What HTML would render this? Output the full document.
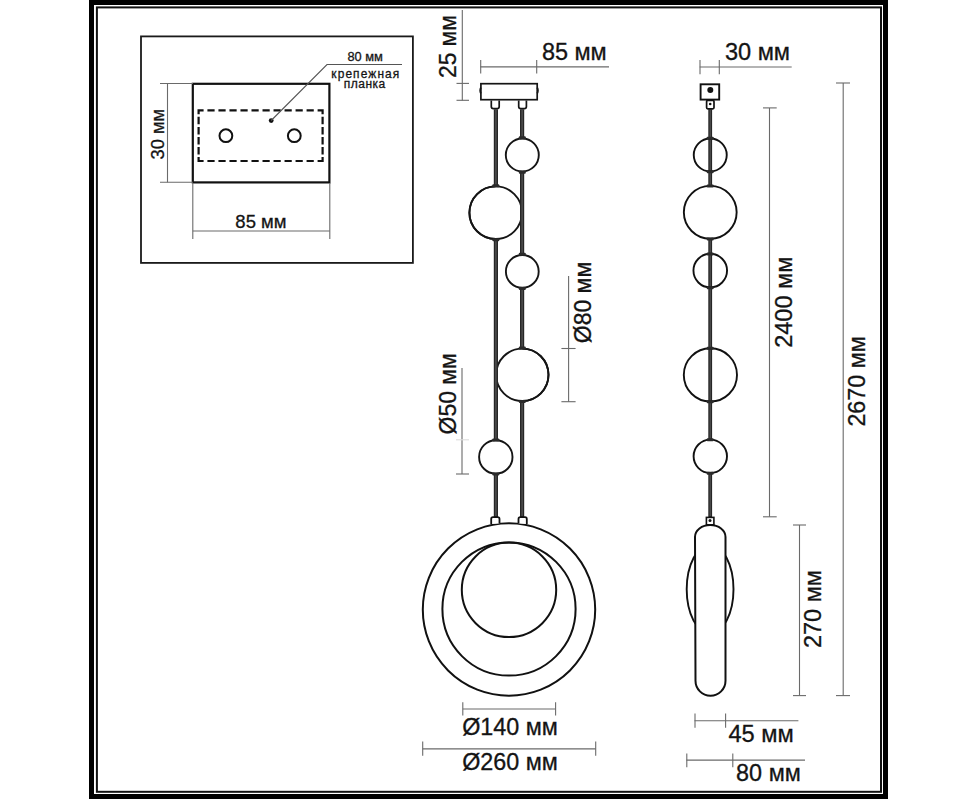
<!DOCTYPE html>
<html><head><meta charset="utf-8">
<style>
html,body{margin:0;padding:0;background:#fff;}
svg{display:block;}
text{font-family:"Liberation Sans",sans-serif;fill:#141414;stroke:#141414;stroke-width:0.3px;}
</style></head>
<body>
<svg width="978" height="800" viewBox="0 0 978 800">
<rect x="0" y="0" width="978" height="800" fill="#fff"/>
<!-- frame -->
<rect x="91.5" y="2.5" width="794" height="794" fill="none" stroke="#000" stroke-width="5"/>
<rect x="96.9" y="7.4" width="784.1" height="784.4" fill="none" stroke="#111" stroke-width="2"/>

<!-- inset box -->
<g id="inset">
<rect x="141" y="36.4" width="271.9" height="226.5" fill="none" stroke="#1a1a1a" stroke-width="1.8"/>
<rect x="192.8" y="83.8" width="136.6" height="98.6" fill="none" stroke="#111" stroke-width="2.2"/>
<path d="M203.60 110.3 H198.6 V114.30 M317.60 110.3 H322.6 V114.30 M203.60 161.0 H198.6 V157.00 M317.60 161.0 H322.6 V157.00 M207.42 110.3 H214.62 M218.44 110.3 H225.64 M229.45 110.3 H236.65 M240.47 110.3 H247.67 M251.49 110.3 H258.69 M262.51 110.3 H269.71 M273.53 110.3 H280.73 M284.55 110.3 H291.75 M295.56 110.3 H302.76 M306.58 110.3 H313.78 M207.42 161.0 H214.62 M218.44 161.0 H225.64 M229.45 161.0 H236.65 M240.47 161.0 H247.67 M251.49 161.0 H258.69 M262.51 161.0 H269.71 M273.53 161.0 H280.73 M284.55 161.0 H291.75 M295.56 161.0 H302.76 M306.58 161.0 H313.78 M198.6 116.84 V124.34 M198.6 126.88 V134.38 M198.6 136.92 V144.42 M198.6 146.96 V154.46 M322.6 116.84 V124.34 M322.6 126.88 V134.38 M322.6 136.92 V144.42 M322.6 146.96 V154.46" fill="none" stroke="#111" stroke-width="2.2" stroke-linejoin="miter"/>
<circle cx="225.9" cy="135.7" r="6.4" fill="none" stroke="#111" stroke-width="2"/>
<circle cx="294.3" cy="135.7" r="6.4" fill="none" stroke="#111" stroke-width="2"/>
<circle cx="271.2" cy="120.6" r="2.4" fill="#111"/>
<path d="M271.2 120.5 L327 64.5 H402" fill="none" stroke="#555" stroke-width="1.1"/>
<text transform="translate(365.10,61.10) scale(1.000,1)" font-size="12.8" text-anchor="middle" >80 мм</text>
<text transform="translate(365.85,78.30) scale(0.996,1)" font-size="12" text-anchor="middle" letter-spacing="1.1">крепежная</text>
<text transform="translate(364.80,87.80) scale(1.000,1)" font-size="12" text-anchor="middle" letter-spacing="0.5">планка</text>
<!-- 30 mm -->
<g stroke="#6a6a6a" stroke-width="1.1" fill="none">
<path d="M167.5 83.5 V182.3"/>
<path d="M160 83.5 H193"/>
<path d="M160 182.3 H193"/>
<path d="M192.8 183 V239"/>
<path d="M329.8 183 V239"/>
<path d="M192.8 231 H329.8"/>
</g>
<text transform="translate(164.10,134.12) rotate(-90) scale(0.975,1)" font-size="18.8" text-anchor="middle" >30 мм</text>
<text transform="translate(260.90,228.30) scale(0.984,1)" font-size="18.8" text-anchor="middle" >85 мм</text>
</g>

<!-- front view -->
<g id="front">
<g stroke="#6a6a6a" stroke-width="1.1" fill="none">
<path d="M462.3 10 V100.4"/>
<path d="M456.5 83.4 H469"/>
<path d="M456.5 100.3 H469"/>
<path d="M480.3 66.9 H609"/>
<path d="M480.7 60 V73.5"/>
<path d="M536.7 60 V73.5"/>
</g>
<text transform="translate(455.8,46.55) rotate(-90) scale(0.99,1)" font-size="23" text-anchor="middle" >25 мм</text>
<text transform="translate(574.29,60.20) scale(1.020,1)" font-size="23" text-anchor="middle" >85 мм</text>
<!-- canopy -->
<rect x="480.9" y="83.7" width="56.3" height="16" fill="#fff" stroke="#151515" stroke-width="1.7"/>
<path d="M480.9 87.5 Q479.3 90.5 480.9 93.5 M537.2 87.5 Q538.8 90.5 537.2 93.5" fill="none" stroke="#151515" stroke-width="1.6"/>
<path d="M491.3 100.5 V106.6 Q491.3 108.7 493.4 108.7 H497.1 Q499.2 108.7 499.2 106.6 V100.5" fill="none" stroke="#151515" stroke-width="1.7"/>
<path d="M518.7 100.5 V106.6 Q518.7 108.7 520.8 108.7 H524.3 Q526.4 108.7 526.4 106.6 V100.5" fill="none" stroke="#151515" stroke-width="1.7"/>
<!-- balls 2 & 4 under wires -->
<g fill="#fff" stroke="#151515" stroke-width="1.9">
<circle cx="495.7" cy="212.7" r="26.3"/>
<circle cx="522.3" cy="374.8" r="26.2"/>
</g>
<!-- wires -->
<g stroke="#262626" stroke-width="4.2" fill="none">
<path d="M495.9 109.3 V186"/>
<path d="M495.9 239 V440"/>
<path d="M495.9 474 V517"/>
<path d="M522.1 109.3 V139"/>
<path d="M522.1 171 V255"/>
<path d="M522.1 288 V348"/>
<path d="M522.1 401 V517"/>
</g>
<g stroke="#555" stroke-width="1.3" fill="none">
<path d="M495.9 110 V186"/>
<path d="M495.9 239 V440"/>
<path d="M495.9 474 V516"/>
<path d="M522.1 110 V139"/>
<path d="M522.1 171 V255"/>
<path d="M522.1 288 V348"/>
<path d="M522.1 401 V516"/>
</g>
<!-- balls -->
<g fill="#fff" stroke="#151515" stroke-width="1.9">
<circle cx="522.3" cy="155" r="16.5"/>
<circle cx="522.3" cy="271.4" r="16.4"/>
<circle cx="495.8" cy="456.9" r="16.7"/>
</g>
<path d="M495.7 186.4 A26.3 26.3 0 0 0 495.7 239" fill="none" stroke="#151515" stroke-width="1.9"/>
<path d="M522.3 348.6 A26.2 26.2 0 0 1 522.3 401" fill="none" stroke="#151515" stroke-width="1.9"/>
<!-- caps -->
<g fill="#2a2a2a">
<rect x="518.8" y="136.3" width="7" height="3" rx="1"/>
<rect x="518.8" y="170.8" width="7" height="3" rx="1"/>
<rect x="492.3" y="184.2" width="7" height="3" rx="1"/>
<rect x="492.3" y="238.2" width="7" height="3" rx="1"/>
<rect x="518.8" y="252.8" width="7" height="3" rx="1"/>
<rect x="518.8" y="287" width="7" height="3" rx="1"/>
<rect x="518.8" y="346.6" width="7" height="3" rx="1"/>
<rect x="518.8" y="400" width="7" height="3" rx="1"/>
<rect x="492.3" y="438.4" width="7" height="3" rx="1"/>
<rect x="492.3" y="472.4" width="7" height="3" rx="1"/>
</g>
<!-- ring -->
<g fill="none" stroke="#111" stroke-width="2">
<circle cx="509" cy="609.5" r="86.2"/>
<circle cx="509" cy="609" r="66.6"/>
<circle cx="509" cy="589.8" r="47.2"/>
</g>
<path d="M491.2 524 V519 Q491.2 517.2 493 517.2 H497.7 Q499.5 517.2 499.5 519 V523.5" fill="#fff" stroke="#111" stroke-width="1.8"/>
<path d="M518.5 523.5 V519 Q518.5 517.2 520.3 517.2 H525 Q526.8 517.2 526.8 519 V524" fill="#fff" stroke="#111" stroke-width="1.8"/>
<!-- dims balls -->
<g stroke="#6a6a6a" stroke-width="1.1" fill="none">
<path d="M462 368 V474"/>
<path d="M456 474 H469"/>
<path d="M456 439.8 H469" stroke="#ddd"/>
<path d="M568.6 276 V401.7"/>
<path d="M561.4 348.5 H575.6"/>
<path d="M561.4 401.7 H575.6"/>
</g>
<text transform="translate(456.40,393.85) rotate(-90) scale(0.996,1)" font-size="23" text-anchor="middle" >Ø50 мм</text>
<text transform="translate(591.20,302.50) rotate(-90) scale(1.000,1)" font-size="23" text-anchor="middle" >Ø80 мм</text>
<!-- bottom dims -->
<g stroke="#6a6a6a" stroke-width="1.1" fill="none">
<path d="M462.8 709 H555.6"/>
<path d="M462.8 702.3 V715.6"/>
<path d="M555.6 702.3 V715.6"/>
<path d="M422.7 748.9 H595.7"/>
<path d="M422.7 741.5 V755.8"/>
<path d="M595.7 741.5 V755.8"/>
</g>
<text transform="translate(510.00,734.90) scale(1.015,1)" font-size="23" text-anchor="middle" >Ø140 мм</text>
<text transform="translate(510.00,769.50) scale(1.015,1)" font-size="23" text-anchor="middle" >Ø260 мм</text>
</g>

<!-- side view -->
<g id="side">
<g stroke="#6a6a6a" stroke-width="1.1" fill="none">
<path d="M699.7 67 H791.7"/>
<path d="M700 59.9 V74.2"/>
<path d="M719.3 59.9 V74.2"/>
<path d="M763 107.9 H776.7"/>
<path d="M769.5 107.9 V516.8"/>
<path d="M763 516.8 H776.7"/>
<path d="M836 83 H850"/>
<path d="M843.2 83 V695.6"/>
<path d="M836 695.6 H850"/>
<path d="M793 525 H806"/>
<path d="M799.5 525 V695.6"/>
<path d="M793 695.6 H806"/>
<path d="M694.5 720.7 H798.4"/>
<path d="M695 713.5 V727.8"/>
<path d="M725.6 713.5 V727.8"/>
<path d="M686.4 760.1 H805"/>
<path d="M686.8 753.4 V767.3"/>
<path d="M732.8 753.4 V767.3"/>
</g>
<text transform="translate(757.51,60.20) scale(1.025,1)" font-size="23" text-anchor="middle" >30 мм</text>
<text transform="translate(791.50,302.18) rotate(-90) scale(1.025,1)" font-size="23" text-anchor="middle" >2400 мм</text>
<text transform="translate(864.60,381.40) rotate(-90) scale(1.014,1)" font-size="23" text-anchor="middle" >2670 мм</text>
<text transform="translate(820.60,609.08) rotate(-90) scale(1.022,1)" font-size="23" text-anchor="middle" >270 мм</text>
<text transform="translate(761.11,742.30) scale(1.030,1)" font-size="23" text-anchor="middle" >45 мм</text>
<text transform="translate(768.46,781.25) scale(1.018,1)" font-size="23" text-anchor="middle" >80 мм</text>
<!-- canopy -->
<rect x="700.6" y="84.3" width="18.6" height="15.3" fill="#fff" stroke="#111" stroke-width="1.9"/>
<circle cx="710.3" cy="90.1" r="3" fill="#111"/>
<rect x="706.6" y="100.4" width="7.4" height="8.4" rx="1.2" fill="#fff" stroke="#111" stroke-width="1.7"/>
<circle cx="710.2" cy="104" r="1.3" fill="#111"/>
<!-- wire -->
<path d="M710.2 109 V517" stroke="#262626" stroke-width="3.8" fill="none"/>
<path d="M710.2 110 V516" stroke="#555" stroke-width="1.1" fill="none"/>
<!-- balls -->
<g fill="none" stroke="#111" stroke-width="1.9">
<circle cx="710.25" cy="155" r="16.5"/>
<circle cx="710.25" cy="270.6" r="16.8"/>
<circle cx="710.4" cy="374.9" r="26.6"/>
</g>
<g fill="#fff" stroke="#111" stroke-width="1.9">
<circle cx="710.25" cy="212.3" r="26.4"/>
<circle cx="710.3" cy="456.3" r="16.7"/>
</g>
<g fill="#2a2a2a">
<rect x="706.7" y="136.8" width="7" height="3" rx="1"/>
<rect x="706.7" y="170.3" width="7" height="3" rx="1"/>
<rect x="706.7" y="184.5" width="7" height="3" rx="1"/>
<rect x="706.7" y="237.5" width="7" height="3" rx="1"/>
<rect x="706.7" y="252.5" width="7" height="3" rx="1"/>
<rect x="706.7" y="286.3" width="7" height="3" rx="1"/>
<rect x="706.7" y="346.8" width="7" height="3" rx="1"/>
<rect x="706.7" y="400.2" width="7" height="3" rx="1"/>
<rect x="706.7" y="438.2" width="7" height="3" rx="1"/>
<rect x="706.7" y="471.8" width="7" height="3" rx="1"/>
</g>
<!-- lens + pill -->
<ellipse cx="710.1" cy="589.3" rx="23.4" ry="44.3" fill="none" stroke="#111" stroke-width="1.9"/>
<path d="M695 537 A15.25 12 0 0 1 725.5 537 V680.75 A14.75 14.75 0 0 1 695.5 680.75 Z" fill="#fff" stroke="#111" stroke-width="2"/>
<rect x="706.4" y="517.4" width="7.5" height="7.4" fill="#fff" stroke="#111" stroke-width="1.6"/>
<circle cx="710" cy="520.6" r="1.5" fill="#111"/>
</g>

</svg>
</body></html>
